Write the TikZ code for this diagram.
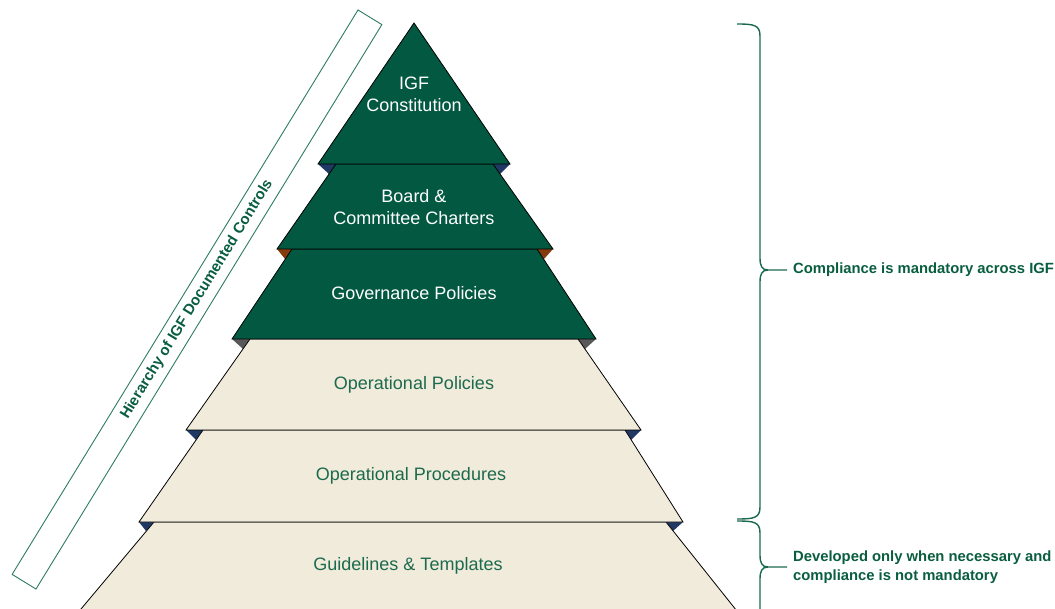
\documentclass[tikz,border=0pt]{standalone}
\usepackage{fontspec}
\setmainfont{Liberation Sans}
\definecolor{dkgreen}{RGB}{2,88,64}
\definecolor{beige}{RGB}{241,235,219}
\definecolor{txtgreen}{RGB}{28,106,78}
\definecolor{lblgreen}{RGB}{10,94,64}
\definecolor{navy}{RGB}{31,56,100}
\definecolor{bevbrown}{RGB}{132,60,12}
\definecolor{bevgray}{RGB}{89,89,89}
\definecolor{boxgreen}{RGB}{46,125,94}
\begin{document}
\begin{tikzpicture}[x=1pt,y=-1pt,
  layerdark/.style={fill=dkgreen,draw=black,line width=0.8pt},
  layerlight/.style={fill=beige,draw=black,line width=0.8pt},
  darktext/.style={text=white,font=\fontsize{18}{22}\selectfont,align=center},
  lighttext/.style={text=txtgreen,font=\fontsize{18}{22}\selectfont,align=center},
  bracestyle/.style={draw=txtgreen,line width=1.4pt},
  sidelabel/.style={text=lblgreen,font=\bfseries\fontsize{14.8}{19}\selectfont,align=left,anchor=west,inner sep=0pt},
  titlebox/.style={draw=boxgreen,line width=0.9pt,fill=white,minimum width=662pt,minimum height=28pt,inner sep=0pt,text=lblgreen,font=\bfseries\fontsize{15}{18}\selectfont}]
\useasboundingbox (0,0) rectangle (1055,609);
\fill[white] (0,0) rectangle (1055,609);
\begin{scope}
\clip (0,0) rectangle (1055,609);
% bevel triangles
\fill[navy] (318,164) -- (336,164) -- (329,174) -- cycle;
\fill[navy] (510,164) -- (493,164) -- (500,174) -- cycle;
\fill[bevbrown] (277,249) -- (292,249) -- (285,259) -- cycle;
\fill[bevbrown] (553,249) -- (537,249) -- (544,259) -- cycle;
\fill[bevgray] (232,339) -- (250,339) -- (243,349) -- cycle;
\fill[bevgray] (596,339) -- (578,339) -- (585,349) -- cycle;
\fill[navy] (186,430) -- (203,430) -- (196,440) -- cycle;
\fill[navy] (641,430) -- (625,430) -- (631,440) -- cycle;
\fill[navy] (139,522) -- (154,522) -- (146,531) -- cycle;
\fill[navy] (683,522) -- (666,522) -- (673,531) -- cycle;
% layers
\draw[layerlight] (154,522) -- (666,522) -- (760,640) -- (55,640) -- cycle;
\draw[layerlight] (203,430) -- (625,430) -- (683,522) -- (139,522) -- cycle;
\draw[layerlight] (250,339) -- (578,339) -- (641,430) -- (186,430) -- cycle;
\draw[layerdark] (292,249) -- (537,249) -- (596,339) -- (232,339) -- cycle;
\draw[layerdark] (336,164) -- (493,164) -- (553,249) -- (277,249) -- cycle;
\draw[layerdark] (414,23) -- (510,164) -- (318,164) -- cycle;
\end{scope}
% layer labels
\node[darktext] (igf) at (414,94) {IGF\\Constitution};
\node[darktext] (board) at (414,207) {Board \&\\Committee Charters};
\node[darktext] (gov) at (414,293) {Governance Policies};
\node[lighttext] (oppol) at (414,385) {Operational Policies};
\node[lighttext] (opproc) at (411,476) {Operational Procedures};
\node[lighttext] (guide) at (408,566) {Guidelines \& Templates};
% rotated title box
\node[titlebox,rotate=58.5] (title) at (197,299.5) {Hierarchy of IGF Documented Controls};
% braces
\begin{scope}
\clip (0,0) rectangle (1055,609);
\draw[bracestyle] (737,24) .. controls (754,24) and (760,25) .. (760,36) -- (760,258)
  .. controls (760,266) and (762,270) .. (768,270) -- (787,270);
\draw[bracestyle] (768,270) .. controls (762,270) and (760,274) .. (760,282) -- (760,507)
  .. controls (760,518) and (754,519) .. (737,519);
\draw[bracestyle] (737,521) .. controls (754,521) and (760,522) .. (760,533) -- (760,555)
  .. controls (760,563) and (762,567) .. (768,567) -- (787,567);
\draw[bracestyle] (768,567) .. controls (762,567) and (760,571) .. (760,579) -- (760,620);
\end{scope}
\coordinate (tip1) at (787,270);
\coordinate (tip2) at (787,567);
\node[sidelabel] (lab1) at (793,270) {Compliance is mandatory across IGF};
\node[sidelabel] (lab2) at (793,567) {Developed only when necessary and\\compliance is not mandatory};
\end{tikzpicture}
\end{document}
